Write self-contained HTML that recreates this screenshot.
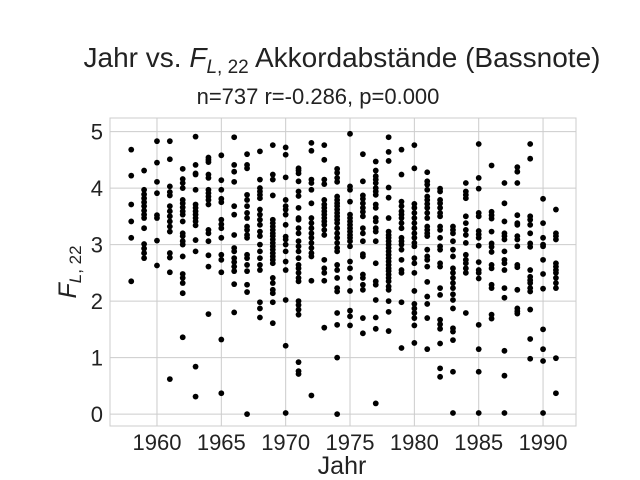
<!DOCTYPE html>
<html><head><meta charset="utf-8"><style>
body{margin:0;background:#fff;}
svg{display:block;font-family:"Liberation Sans","DejaVu Sans",sans-serif;}
</style></head><body>
<svg id="chart" width="640" height="480">
<text x="342" y="67" font-size="28" text-anchor="middle" fill="#222">Jahr vs. <tspan font-style="italic">F</tspan><tspan font-size="19" dy="6" font-style="italic">L</tspan><tspan font-size="19">, 22</tspan><tspan dy="-6"> Akkordabstände (Bassnote)</tspan></text>
<text x="318" y="104" font-size="22" text-anchor="middle" fill="#222">n=737 r=-0.286, p=0.000</text>
<text x="342" y="474" font-size="25" text-anchor="middle" fill="#222">Jahr</text>
<text transform="translate(76,272) rotate(-90)" font-size="25" text-anchor="middle" fill="#222"><tspan font-style="italic">F</tspan><tspan font-size="17" dy="5" font-style="italic">L</tspan><tspan font-size="17">, 22</tspan></text>
<g id="grid"></g><g id="pts"></g>
<rect x="110" y="118" width="466" height="308" fill="none" stroke="#ccc" stroke-width="1"/>
</svg>
<script>
const years=[1958,1959,1960,1961,1962,1963,1964,1965,1966,1967,1968,1969,1970,1971,1972,1973,1974,1975,1976,1977,1978,1979,1980,1981,1982,1983,1984,1985,1986,1987,1988,1989,1990,1991];
const values=[
[4.68,4.22,3.71,3.41,3.12,2.35],
[4.31,3.97,3.89,3.82,3.75,3.68,3.60,3.53,3.47,3.29,3.01,2.93,2.85,2.76],
[4.83,4.45,4.11,3.91,3.52,3.47,3.07,2.63],
[4.83,4.51,4.03,3.93,3.87,3.68,3.59,3.50,3.41,3.32,3.23,2.85,2.77,2.51,0.62],
[4.34,4.16,4.09,4.0,3.79,3.73,3.66,3.59,3.53,3.41,3.2,3.15,3.06,3.0,2.79,2.48,2.41,2.32,2.14,1.36],
[4.91,4.41,4.26,4.24,3.97,3.71,3.65,3.59,3.53,3.47,3.41,3.34,3.08,2.88,0.84,0.31],
[4.54,4.5,4.46,4.24,4.18,3.97,3.91,3.85,3.79,3.71,3.26,3.2,3.06,2.81,2.61,1.77],
[4.58,4.14,3.97,3.81,3.75,3.44,3.36,3.29,3.12,2.82,2.73,2.51,1.32,0.37],
[4.9,4.41,4.29,4.11,3.68,3.53,3.17,2.94,2.88,2.76,2.69,2.61,2.53,2.3,1.8],
[4.6,4.41,4.35,3.88,3.79,3.68,3.56,3.47,3.32,3.26,3.17,3.12,2.82,2.76,2.64,2.53,2.29,2.16,0.0],
[4.65,4.15,4.0,3.94,3.88,3.82,3.62,3.53,3.44,3.35,3.23,3.15,3.0,2.88,2.76,2.64,2.55,1.98,1.87,1.71],
[4.76,4.24,4.15,3.87,3.44,3.38,3.32,3.26,3.2,3.15,3.09,3.03,2.97,2.91,2.85,2.79,2.73,2.67,2.41,2.32,2.2,2.14,1.98,1.61],
[4.72,4.59,4.19,3.79,3.68,3.62,3.53,3.35,3.14,3.09,3.0,2.88,2.7,2.55,2.02,1.21,0.02],
[4.35,4.31,4.26,4.12,3.94,3.86,3.65,3.47,3.44,3.29,3.2,3.06,2.97,2.88,2.76,2.64,2.58,2.5,2.41,2.35,2.0,1.93,1.85,1.76,0.92,0.76,0.71],
[4.8,4.66,4.15,4.09,3.97,3.73,3.47,3.38,3.29,3.2,3.12,3.03,2.94,2.85,2.79,2.36,0.33],
[4.76,4.5,4.15,4.07,3.79,3.71,3.65,3.59,3.53,3.47,3.41,3.35,3.26,3.17,2.73,2.58,2.5,2.36,1.53],
[4.34,4.27,4.18,4.11,3.85,3.79,3.73,3.68,3.62,3.56,3.5,3.44,3.38,3.29,3.2,3.12,3.03,2.94,2.88,2.64,2.55,2.41,2.23,2.17,1.79,1.58,1.0,0.0],
[4.96,4.03,3.97,3.76,3.53,3.47,3.41,3.35,3.29,3.23,3.17,3.12,3.06,2.97,2.7,2.58,2.41,2.18,1.83,1.73,1.57],
[4.6,4.12,3.87,3.81,3.73,3.65,3.58,3.5,3.29,3.2,3.06,2.83,2.79,2.47,2.41,2.29,2.2,1.7,1.43],
[4.47,4.31,4.21,4.15,4.09,4.0,3.94,3.88,3.71,3.65,3.47,3.41,3.29,3.23,3.06,2.67,2.35,2.29,2.02,1.71,1.51,0.19],
[4.9,4.64,4.48,4.01,3.83,3.47,3.23,3.17,3.12,3.06,3.0,2.94,2.88,2.82,2.76,2.7,2.64,2.58,2.53,2.47,2.41,2.35,2.26,2.2,2.0,1.81,1.47],
[4.68,4.24,3.76,3.68,3.59,3.53,3.47,3.38,3.29,3.12,3.06,3.0,2.91,2.73,2.55,2.5,1.98,1.17],
[4.76,4.35,3.72,3.65,3.56,3.47,3.38,3.29,3.2,3.12,3.03,2.97,2.76,2.67,2.5,2.18,1.95,1.87,1.79,1.7,1.57,1.26],
[4.28,4.12,4.06,3.97,3.85,3.79,3.72,3.65,3.56,3.47,3.32,3.26,3.2,3.15,2.91,2.79,2.73,2.61,2.34,2.08,1.95,1.7,1.15],
[3.99,3.94,3.79,3.73,3.65,3.56,3.5,3.32,3.26,3.12,2.97,2.91,2.67,2.61,2.23,2.11,1.67,1.59,1.51,1.25,0.81,0.66],
[3.32,3.26,3.2,3.06,2.91,2.79,2.58,2.5,2.41,2.32,2.23,2.12,2.02,1.87,1.52,1.46,1.31,0.75,0.02],
[4.09,3.94,3.88,3.82,3.5,3.38,3.26,3.17,3.03,2.82,2.73,2.67,2.58,2.5,1.79],
[4.78,4.18,3.99,3.56,3.5,3.24,3.18,3.12,2.98,2.69,2.55,2.5,2.4,1.58,1.15,0.75,0.02],
[4.4,3.58,3.52,3.46,3.23,3.02,2.96,2.87,2.64,2.58,2.29,2.23,1.76,1.69],
[4.09,3.73,3.41,3.2,3.15,3.09,2.88,2.73,2.67,2.55,2.23,2.06,1.12,0.68,0.02],
[4.37,4.29,4.09,3.52,3.38,3.35,3.15,3.09,2.97,2.64,2.6,2.2,1.87,1.82,1.78],
[4.78,4.52,3.5,3.44,3.35,3.2,3.02,2.96,2.55,2.43,2.37,2.32,2.23,2.17,1.85,1.33,0.98],
[3.81,3.38,3.12,3.0,2.97,2.73,2.48,2.22,1.5,1.15,0.94,0.02],
[3.62,3.2,3.15,3.09,2.67,2.61,2.55,2.5,2.41,2.32,2.23,0.99,0.37]
];
const xTicks=[1960,1965,1970,1975,1980,1985,1990];
const yTicks=[0,1,2,3,4,5];
const NS="http://www.w3.org/2000/svg";
const X0=110,X1=576,Y0=426,Y1=118,XMIN=1956.35,XMAX=1992.56,YMIN=-0.21,YMAX=5.24;
function xs(v){return X0+(v-XMIN)/(XMAX-XMIN)*(X1-X0);}
function ys(v){return Y0-(v-YMIN)/(YMAX-YMIN)*(Y0-Y1);}
function mk(t,a,p){const e=document.createElementNS(NS,t);for(const k in a)e.setAttribute(k,a[k]);p.appendChild(e);return e;}
const grid=document.getElementById('grid'),pts=document.getElementById('pts');
xTicks.forEach(t=>{
 const l=mk('line',{x1:xs(t),x2:xs(t),y1:Y1,y2:Y0,stroke:'#ccc','stroke-width':1},grid);
 
 
 const tx=mk('text',{x:xs(t),y:450,'font-size':22,'text-anchor':'middle',fill:'#222'},grid);
 tx.textContent=t;
 
 
});
yTicks.forEach(t=>{
 const l=mk('line',{x1:X0,x2:X1,y1:ys(t),y2:ys(t),stroke:'#ccc','stroke-width':1},grid);
 
 
 const tx=mk('text',{x:103,y:ys(t)+8,'font-size':22,'text-anchor':'end',fill:'#222'},grid);
 tx.textContent=t;
 
 
});
years.forEach((yr,i)=>{
 values[i].forEach(v=>{
  const c=mk('circle',{cx:xs(yr),cy:ys(v),r:2.9,fill:'#000'},pts);
  
  
 });
});
</script>
</body></html>
